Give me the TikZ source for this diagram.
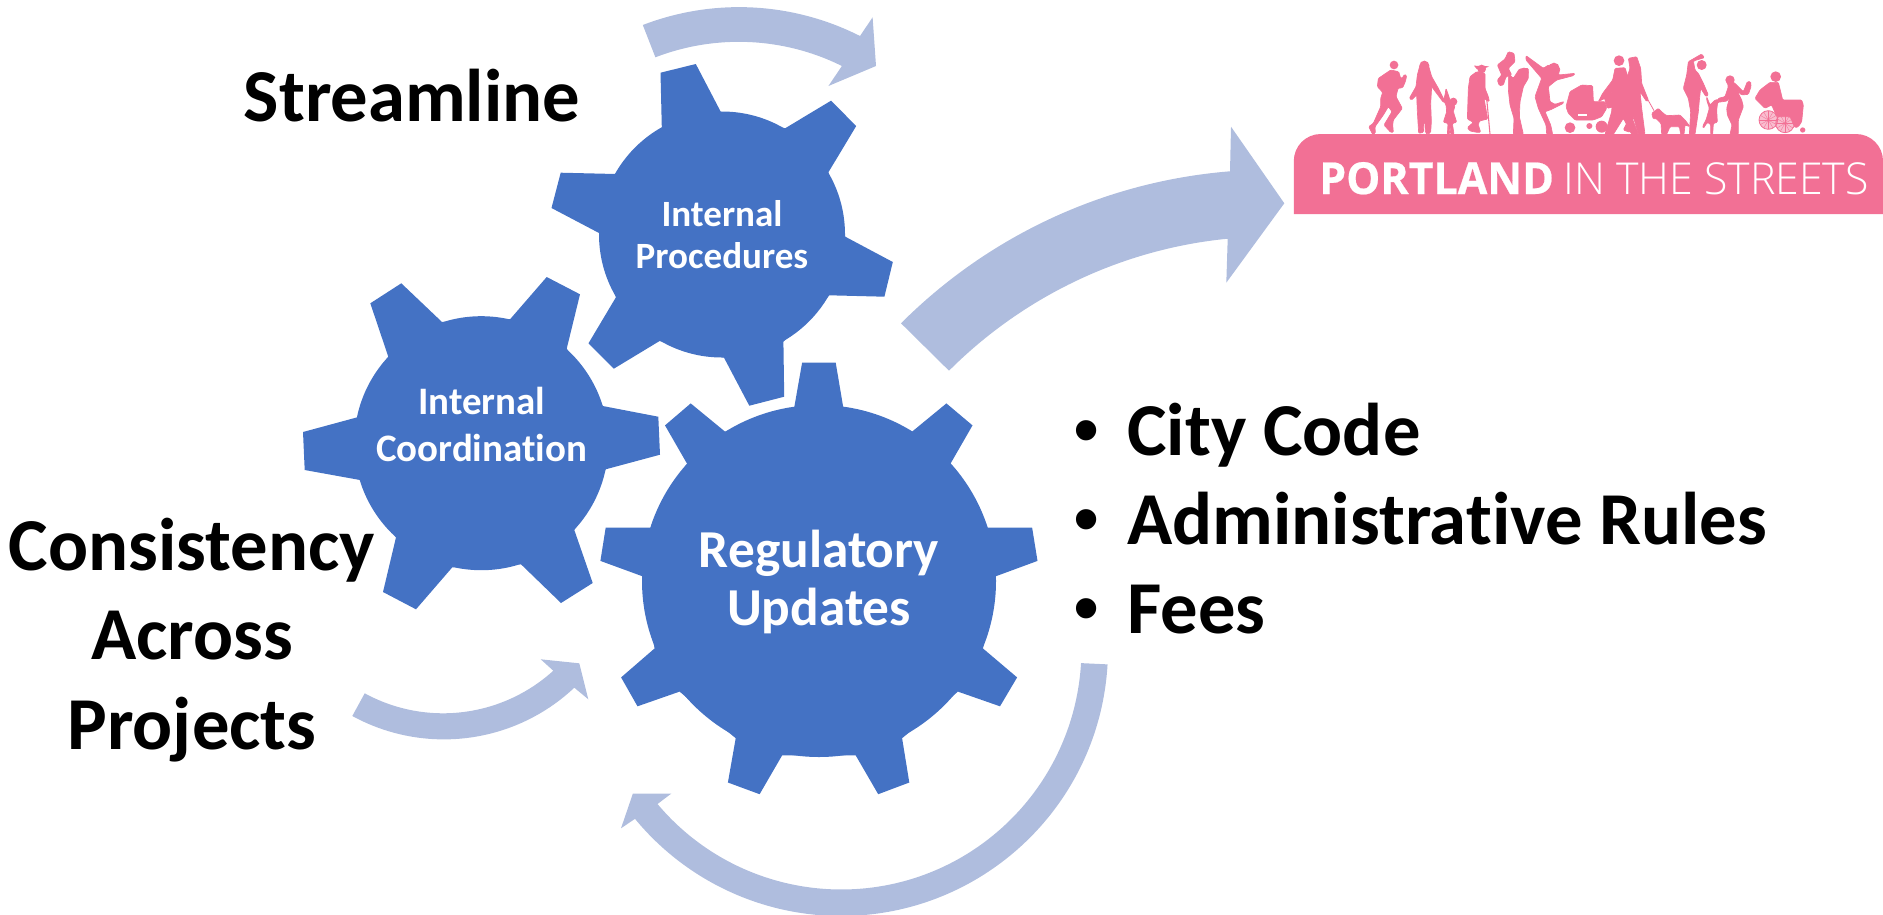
\documentclass[tikz,border=0pt]{standalone}
\usepackage{fontspec}
\setmainfont{Carlito}[Ligatures=NoCommon]
\newfontfamily\bulletfont{Liberation Sans}
\newfontfamily\bannerbold{Open Sans}[UprightFont=*,BoldFont=* Bold,BoldFeatures={FakeStretch=0.975,FakeBold=0.5}]
\newfontfamily\bannerthin{Open Sans Light}[FakeStretch=0.973]
\definecolor{gearblue}{HTML}{4472C4}
\definecolor{arrowblue}{HTML}{AFBDDE}
\definecolor{bannerpink}{HTML}{F27095}
\definecolor{wheelpink}{HTML}{F9BDCF}
\tikzset{
  gearshape/.style={fill=gearblue},
  bentarrow/.style={fill=arrowblue},
  gearlabel/.style={text=white,font=\bfseries,align=center,inner sep=0pt},
  bigtext/.style={text=black,font=\fontsize{56}{67}\selectfont\bfseries,inner sep=0pt},
  bulletmark/.style={text=black,font=\fontsize{56}{67}\selectfont\bulletfont,inner sep=0pt},
  person/.style={fill=bannerpink,draw=bannerpink,line width=0.5pt,rounded corners=0.8pt},
  headdot/.style={fill=bannerpink},
  panelone/.style={shift={(1360,45)},x=0.25pt,y=-0.25pt},
  paneltwo/.style={shift={(1530,45)},x=0.25pt,y=-0.25pt},
  panelthree/.style={shift={(1670,45)},x=0.25pt,y=-0.25pt},
}
\begin{document}
\begin{tikzpicture}[x=0.75pt,y=-0.75pt]
\useasboundingbox (0,0) rectangle (1883,914);
% --- arrows
\fill[bentarrow] (642.8,25) .. controls (713.6,-2.2) and (792.4,1.8) .. (860,36)
  -- (872.6,17.3) -- (876,66) -- (828.4,86) -- (841.9,66)
  .. controls (783.8,37.1) and (716,34) .. (655.4,57.3) -- cycle;
\fill[bentarrow] (901,323.3) .. controls (989.2,235.1) and (1105.6,181.3) .. (1230,171.3)
  -- (1231,126.7) -- (1284.3,203.3) -- (1226.3,282.7) -- (1227.7,238.7)
  .. controls (1122.4,249) and (1023.8,295.9) .. (949,370.7) -- cycle;
\fill[bentarrow] (352.3,716) .. controls (424.7,755.5) and (514.2,744.2) .. (574.3,687.7)
  -- (588.3,699.3) -- (579.3,663.3) -- (540.7,659.3) -- (553.3,670.7)
  .. controls (501.6,717.6) and (426,726.7) .. (364.7,693.3) -- cycle;
\fill[bentarrow] (841,649) ++(3.3:267) arc[start angle=3.3,end angle=140.5,radius=267]
  -- (621,828.3) -- (632.9,793.5) -- (671.4,793.5) -- (657.5,804)
  arc[start angle=139.9,end angle=3.3,radius=240.2] -- cycle;
% --- gears
\fill[gearshape] (722,234.5) circle[radius=123];
\fill[gearshape] (661.8,127.7) -- (660.5,72.7) -- (695.8,64) -- (720.7,111.7) -- (785.1,128.3) -- (831,100.7)
  -- (856.2,126) -- (828.4,172.3) -- (845.3,236.7) -- (892.8,262) -- (884.4,296.7) -- (829.3,295.3)
  -- (783.4,341.7) -- (784.2,396.7) -- (749.3,405.7) -- (724,357.7) -- (659.6,341) -- (613.8,368.7)
  -- (588.5,343.3) -- (615.9,297.3) -- (599,233) -- (551.5,208) -- (560.7,172.7) -- (615.5,174) -- cycle;
\fill[gearshape] (481.3,443.2) circle[radius=127];
\fill[gearshape] (388.3,356.7) -- (370.3,303.3) -- (401.3,283.3) -- (442,322) -- (510.3,319) -- (546.7,277)
  -- (580,294.3) -- (566.7,348.7) -- (602.7,406) -- (658.3,416.7) -- (660,454.7) -- (605.7,469.3)
  -- (574.3,530) -- (592.7,583) -- (561,603) -- (521,564.3) -- (452.3,567.3) -- (416,609.3)
  -- (383,592) -- (396,537.3) -- (360,480) -- (304.7,470) -- (303,432) -- (357.3,417.3) -- cycle;
\fill[gearshape] (819,581) ellipse[x radius=177,y radius=176];
\fill[gearshape] (794.3,407) -- (802.1,362.7) -- (835.7,362.7) -- (843.2,407) -- (912.1,431.6) -- (946.4,403.4)
  -- (972.5,425.4) -- (950.4,463.8) -- (986.8,527.5) -- (1032.1,527.5) -- (1037.5,560.9) -- (995.7,576.3)
  -- (982.9,648.4) -- (1017.1,677.4) -- (1000,706.3) -- (957.9,691.6) -- (902.1,738.2) -- (909.3,782.5)
  -- (878.2,794.2) -- (855.7,755.4) -- (782.1,755.4) -- (759.6,794.2) -- (727.9,782.5) -- (735.7,738.2)
  -- (679.6,691.6) -- (637.5,706.3) -- (621.1,677.4) -- (654.6,648.4) -- (642.5,576.3) -- (600.4,560.9)
  -- (605.7,527.5) -- (651.1,527.5) -- (687.1,463.8) -- (665,425.4) -- (690.7,403.4) -- (725,431.6) -- cycle;
% --- gear labels
\node[gearlabel,font=\fontsize{27.8}{32}\selectfont\bfseries] (procedures) at (722,234.5) {Internal\\Procedures};
\node[gearlabel,font=\fontsize{29.2}{35.5}\selectfont\bfseries] (coordination) at (481.7,424.5) {Internal\\Coordination};
\node[gearlabel,font=\fontsize{40}{44}\selectfont\bfseries] (regulatory) at (819,582) {Regulatory\\Updates};
% --- big labels
\node[bigtext,anchor=base] (streamline) at (412,121) {Streamline};
\node[bigtext,align=center] (consistency) at (192,640) {Consistency\\Across\\Projects};
\node[bulletmark,anchor=base] (bulA) at (1087,455) {•};
\node[bulletmark,anchor=base] (bulB) at (1087,544) {•};
\node[bulletmark,anchor=base] (bulC) at (1087,633) {•};
\node[bigtext,anchor=base west] (citycode) at (1127,455) {City Code};
\node[bigtext,anchor=base west] (adminrules) at (1127,544) {Administrative Rules};
\node[bigtext,anchor=base west] (fees) at (1127,633) {Fees};
% --- logo banner
\fill[bannerpink] (1293.8,214) -- (1293.8,161) arc[start angle=180,end angle=270,radius=27] -- (1856,134) arc[start angle=270,end angle=360,radius=27] -- (1883,214) -- cycle;
\node[text=white,inner sep=0pt,anchor=base west,font=\bannerbold\bfseries\fontsize{33}{33}\selectfont] (portland) at (1319,194) {PORTLAND};
\node[text=white,inner sep=0pt,anchor=base west,font=\bannerthin\fontsize{33}{33}\selectfont] (inthestreets) at (1563.5,194) {IN THE STREETS};
% --- silhouettes
\begin{scope}[panelone]
  % runner
  \fill[headdot] (102,60) circle[radius=13];
  \filldraw[person] (92,75) -- (116,80) -- (122,100) -- (128,98) -- (133,88) -- (140,92) -- (136,110) -- (128,128) -- (114,130) -- (108,155) -- (127,190) -- (100,225) -- (98,240) -- (100,262) -- (92,262) -- (72,240) -- (96,200) -- (85,185) -- (70,210) -- (45,245) -- (46,265) -- (38,268) -- (26,245) -- (40,235) -- (62,185) -- (62,160) -- (68,142) -- (52,125) -- (55,100) -- (70,90) -- cycle;
  % woman
  \fill[headdot] (193,62) circle[radius=15];
  \filldraw[person] (180,60) -- (205,60) -- (215,95) -- (235,130) -- (255,170) -- (250,172) -- (215,125) -- (212,175) -- (214,230) -- (212,262) -- (203,268) -- (196,262) -- (194,200) -- (190,262) -- (176,265) -- (172,200) -- (170,150) -- (155,165) -- (148,160) -- (168,125) -- (172,90) -- cycle;
  % child
  \fill[headdot] (280,170) circle[radius=12];
  \filldraw[person] (258,130) -- (265,150) -- (272,172) -- (285,182) -- (280,200) -- (290,232) -- (277,235) -- (282,268) -- (272,268) -- (270,240) -- (268,268) -- (262,268) -- (264,235) -- (250,232) -- (260,200) -- (258,180) -- (250,165) -- (255,150) -- cycle;
  % old woman
  \fill[headdot] (365,72) circle[radius=13];
  \fill[headdot] (342,62) -- (388,64) -- (370,72) -- (350,72) -- cycle;
  \filldraw[person] (350,80) -- (375,85) -- (375,130) -- (385,155) -- (388,170) -- (378,165) -- (372,160) -- (383,222) -- (358,228) -- (355,240) -- (362,262) -- (350,262) -- (330,258) -- (322,248) -- (340,232) -- (322,222) -- (325,130) -- (330,95) -- cycle;
  \draw[bannerpink,line width=0.8pt] (380,160) -- (390,268);
  % baby held up
  \filldraw[person] (445,20) -- (462,25) -- (465,50) -- (445,70) -- (455,90) -- (438,95) -- (430,120) -- (418,122) -- (412,105) -- (425,90) -- (412,60) -- (435,42) -- cycle;
  % parent
  \fill[headdot] (492,82) circle[radius=14];
  \filldraw[person] (445,85) -- (460,100) -- (478,72) -- (505,70) -- (505,100) -- (490,125) -- (480,170) -- (478,215) -- (490,268) -- (460,268) -- (462,220) -- (450,180) -- (445,135) -- cycle;
\end{scope}
\begin{scope}[paneltwo]
  % dancer
  \fill[headdot] (72,70) circle[radius=17];
  \filldraw[person] (-12,32) -- (40,70) -- (55,60) -- (90,70) -- (85,90) -- (135,85) -- (130,92) -- (80,105) -- (55,125) -- (60,170) -- (75,178) -- (100,170) -- (100,175) -- (60,195) -- (45,200) -- (62,240) -- (68,268) -- (50,268) -- (48,240) -- (25,190) -- (15,155) -- (35,100) -- (-12,45) -- cycle;
  % pram
  \filldraw[person] (108,185) -- (120,140) -- (155,120) -- (188,122) -- (190,170) -- (225,170) -- (230,190) -- (215,215) -- (190,225) -- (135,225) -- (115,205) -- cycle;
  \fill[headdot] (120,248) circle[radius=16] (215,245) circle[radius=18] (178,243) circle[radius=9];
  \fill[white] (145,208) rectangle (172,214);
  % bag
  \filldraw[person] (222,155) -- (255,138) -- (253,185) -- (232,190) -- cycle;
  % man
  \fill[headdot] (267,47) circle[radius=16];
  \filldraw[person] (255,70) -- (285,68) -- (295,100) -- (300,170) -- (305,215) -- (325,268) -- (305,268) -- (280,220) -- (250,268) -- (225,268) -- (245,200) -- (248,140) -- (225,160) -- (205,170) -- (218,145) -- (248,105) -- cycle;
  % woman with dog
  \filldraw[person] (295,40) -- (320,35) -- (332,70) -- (335,115) -- (355,165) -- (350,170) -- (330,140) -- (335,190) -- (345,268) -- (325,268) -- (310,215) -- (300,262) -- (280,255) -- (300,215) -- (295,170) -- (290,100) -- (300,70) -- cycle;
  \draw[bannerpink,line width=0.6pt] (340,140) -- (372,197);
  % dog
  \filldraw[person] (365,205) -- (385,190) -- (400,205) -- (410,212) -- (450,210) -- (465,225) -- (480,245) -- (465,240) -- (462,268) -- (452,268) -- (448,245) -- (420,245) -- (410,268) -- (395,268) -- (393,235) -- (378,220) -- (370,222) -- cycle;
\end{scope}
\begin{scope}[panelthree]
  % stretching person
  \fill[headdot] (95,60) circle[radius=15];
  \filldraw[person] (55,50) -- (95,27) -- (103,38) -- (70,48) -- (75,75) -- (85,85) -- (100,115) -- (115,150) -- (108,155) -- (92,130) -- (88,165) -- (85,200) -- (75,268) -- (58,268) -- (62,200) -- (55,160) -- (40,130) -- (50,90) -- cycle;
  % child
  \filldraw[person] (110,155) -- (120,180) -- (135,165) -- (175,160) -- (172,168) -- (143,172) -- (140,195) -- (142,232) -- (130,235) -- (128,268) -- (122,268) -- (122,238) -- (112,232) -- (100,250) -- (98,243) -- (108,225) -- (118,190) -- (110,165) -- cycle;
  % woman
  \fill[headdot] (180,105) circle[radius=14];
  \filldraw[person] (168,100) -- (195,115) -- (220,140) -- (232,110) -- (242,110) -- (243,125) -- (235,148) -- (215,150) -- (200,135) -- (215,165) -- (220,185) -- (205,225) -- (205,268) -- (180,268) -- (186,240) -- (172,210) -- (170,190) -- (178,160) -- (170,165) -- (145,165) -- (145,160) -- (165,155) -- (175,125) -- cycle;
  % wheelchair
  \filldraw[fill=wheelpink,draw=bannerpink,line width=0.6pt] (295,225) circle[radius=28] (345,235) circle[radius=28];
  \foreach \a in {0,30,...,330}{
    \draw[bannerpink,line width=0.25pt] (295,225) -- ++(\a:28);
    \draw[bannerpink,line width=0.25pt] (345,235) -- ++(\a:28);
  }
  \fill[headdot] (398,255) circle[radius=8];
  \fill[headdot] (317,95) circle[radius=16];
  \filldraw[person] (300,112) -- (325,112) -- (338,165) -- (395,165) -- (400,180) -- (395,230) -- (385,245) -- (375,248) -- (360,215) -- (320,215) -- (305,180) -- (285,190) -- (255,160) -- (270,135) -- cycle;
\end{scope}
\end{tikzpicture}
\end{document}
